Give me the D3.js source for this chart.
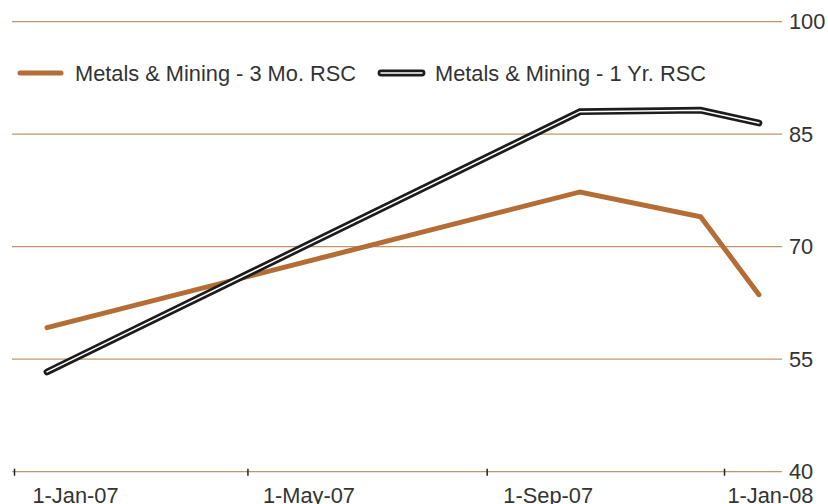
<!DOCTYPE html>
<html>
<head>
<meta charset="utf-8">
<script src="https://cdn.jsdelivr.net/npm/d3@7"></script>
<style>
  body { margin: 0; background: #fff; }
  text { font-family: "Liberation Sans", Arial, sans-serif; fill: #333; }
</style>
</head>
<body>
<script>
// data
const dates = ["2007-01-19", "2007-10-20", "2007-12-21", "2008-01-20"];
const threeMonth = [59.2, 77.3, 74.0, 63.6];
const oneYear = [53.3, 88.0, 88.2, 86.5];
const yTicks = [40, 55, 70, 85, 100];
const xTicks = ["2007-01-01", "2007-05-01", "2007-09-01", "2008-01-01"];
const seriesNames = ["Metals & Mining - 3 Mo. RSC", "Metals & Mining - 1 Yr. RSC"];

const parse = d3.timeParse("%Y-%m-%d");
const fmt = d3.timeFormat("%-d-%b-%y");

const W = 828, H = 504;
const brown = "#b36d35";
const grid = "#c39468";
const fs = 21.8;

const svg = d3.select("body").append("svg")
  .attr("width", W)
  .attr("height", H);

const x = d3.scaleTime()
  .domain([parse("2007-01-01"), parse("2008-01-01")])
  .range([12, 722]);

const y = d3.scaleLinear()
  .domain([40, 100])
  .range([471.7, 21.7]);

// horizontal gridlines + right labels
svg.selectAll("line.grid")
  .data(yTicks)
  .enter()
  .append("line")
  .attr("class", "grid")
  .attr("x1", 12)
  .attr("x2", 782)
  .attr("y1", d => y(d))
  .attr("y2", d => y(d))
  .attr("stroke", grid)
  .attr("stroke-width", 1.3);

svg.selectAll("text.ylab")
  .data(yTicks)
  .enter()
  .append("text")
  .attr("class", "ylab")
  .attr("x", 789)
  .attr("y", d => y(d) + 7.5)
  .attr("font-size", fs)
  .text(d => d);

// x axis ticks and labels
const xAxis = d3.axisBottom(x)
  .tickValues(xTicks.map(parse))
  .tickSize(0)
  .tickFormat(fmt);

const gx = svg.append("g")
  .attr("transform", `translate(0,${y(40)})`)
  .call(xAxis);
gx.select(".domain").remove();
gx.selectAll(".tick line").remove();
gx.selectAll(".tick")
  .append("line")
  .attr("x1", 2).attr("x2", 2)
  .attr("y1", -3)
  .attr("y2", 4)
  .attr("stroke", "#222")
  .attr("stroke-width", 1.5);
gx.selectAll(".tick text")
  .attr("font-size", fs)
  .attr("font-family", "Liberation Sans, Arial, sans-serif")
  .attr("fill", "#333")
  .attr("dy", 0)
  .attr("y", 31)
  .attr("x", (d, i) => (i === xTicks.length - 1 ? 813 - x(d) : 63))
  .attr("text-anchor", (d, i) => (i === xTicks.length - 1 ? "end" : "middle"));

// lines
const rows3 = dates.map((d, i) => ({ date: parse(d), v: threeMonth[i] }));
const rows1 = dates.map((d, i) => ({ date: parse(d), v: oneYear[i] }));

const line = d3.line()
  .x(d => x(d.date))
  .y(d => y(d.v));

svg.append("path")
  .datum(rows3)
  .attr("d", line)
  .attr("fill", "none")
  .attr("stroke", brown)
  .attr("stroke-width", 5)
  .attr("stroke-linecap", "round");

svg.append("path")
  .datum(rows1)
  .attr("d", line)
  .attr("fill", "none")
  .attr("stroke", "#1c1c1c")
  .attr("stroke-width", 6.8)
  .attr("stroke-linecap", "round");

svg.append("path")
  .datum(rows1)
  .attr("d", line)
  .attr("fill", "none")
  .attr("stroke", "#fff")
  .attr("stroke-width", 1.5)
  .attr("stroke-linecap", "round");

// legend
const legY = 73;
svg.append("line")
  .attr("x1", 20).attr("x2", 61)
  .attr("y1", legY).attr("y2", legY)
  .attr("stroke", brown)
  .attr("stroke-width", 5)
  .attr("stroke-linecap", "round");
svg.append("text")
  .attr("x", 75).attr("y", legY + 7.5)
  .attr("font-size", fs)
  .text(seriesNames[0]);

svg.append("line")
  .attr("x1", 381).attr("x2", 422)
  .attr("y1", legY).attr("y2", legY)
  .attr("stroke", "#1c1c1c")
  .attr("stroke-width", 6.8)
  .attr("stroke-linecap", "round");
svg.append("line")
  .attr("x1", 381).attr("x2", 422)
  .attr("y1", legY).attr("y2", legY)
  .attr("stroke", "#fff")
  .attr("stroke-width", 1.5)
  .attr("stroke-linecap", "round");
svg.append("text")
  .attr("x", 435).attr("y", legY + 7.5)
  .attr("font-size", fs)
  .text(seriesNames[1]);
</script>
</body>
</html>
